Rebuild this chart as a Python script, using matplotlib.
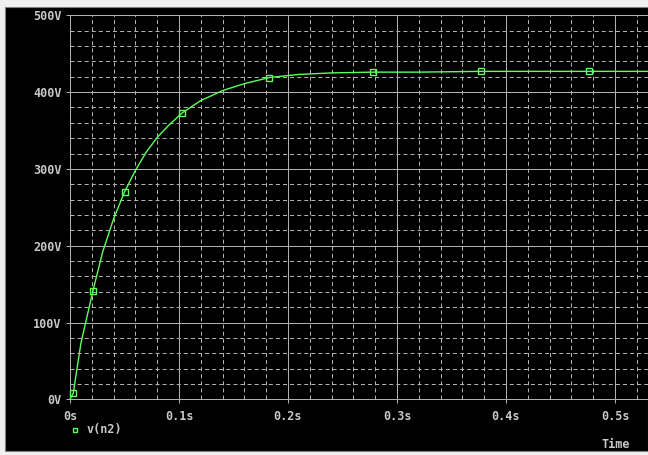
import matplotlib.pyplot as plt
from matplotlib.patches import Rectangle
from matplotlib.ticker import MultipleLocator

# v(n2) trace (time in s, voltage in V)
time_s = [0, 0.003, 0.01, 0.021, 0.03, 0.04, 0.05, 0.06, 0.07, 0.08, 0.09,
          0.103, 0.12, 0.14, 0.16, 0.183, 0.21, 0.24, 0.278, 0.32, 0.377,
          0.42, 0.476, 0.535]
v_n2 = [0, 8, 73, 141, 192, 235, 270, 298, 322, 341, 356,
        373, 389, 402, 411, 419, 423, 425, 426, 426, 427,
        427, 427, 427]

# symbol positions on the trace
mark_t = [0.003, 0.021, 0.050, 0.103, 0.183, 0.278, 0.377, 0.476]
mark_v = [8, 141, 270, 373, 419, 426, 427, 427]

x_ticks = [0, 0.1, 0.2, 0.3, 0.4, 0.5]
x_labels = ["0s", "0.1s", "0.2s", "0.3s", "0.4s", "0.5s"]
y_ticks = [0, 100, 200, 300, 400, 500]
y_labels = ["0V", "100V", "200V", "300V", "400V", "500V"]

W, H = 648, 455
TXT = "#c8c8c8"
GRID = "#b0b0b0"
TRACE = "#5cff5c"
FONT = "DejaVu Sans Mono"

plt.rcParams["lines.scale_dashes"] = False

fig = plt.figure(figsize=(W / 100, H / 100), dpi=100, facecolor="#f0f0f0")
# black window area
fig.patches.append(Rectangle((5 / W, (H - 451) / H), (W - 5) / W, (451 - 7) / H,
                             transform=fig.transFigure, facecolor="black",
                             edgecolor="#808080", linewidth=0.8, zorder=-5))

x0, x1 = 70, W
ytop, ybot = 15.3, 399.3
ax = fig.add_axes([x0 / W, (H - ybot) / H, (x1 - x0) / W, (ybot - ytop) / H])
ax.set_facecolor("black")

ax.set_xlim(0, (x1 - x0) / 1090)
ax.set_ylim(0, 500)

for s in ["left", "bottom", "top"]:
    ax.spines[s].set_color(GRID)
    ax.spines[s].set_linewidth(0.72)
ax.spines["right"].set_visible(False)

ax.set_xticks(x_ticks)
ax.set_xticklabels(x_labels)
ax.set_yticks(y_ticks)
ax.set_yticklabels(y_labels)
ax.xaxis.set_minor_locator(MultipleLocator(0.02))
ax.yaxis.set_minor_locator(MultipleLocator(20))

ax.tick_params(axis="both", which="major", colors=GRID, length=3, width=0.72,
               labelcolor=TXT, labelsize=8.5)
ax.tick_params(axis="x", which="major", pad=5)
ax.tick_params(axis="y", which="major", pad=3)
ax.tick_params(which="minor", length=0)
for lab in ax.get_xticklabels() + ax.get_yticklabels():
    lab.set_family(FONT)
    lab.set_fontweight("bold")

ax.grid(which="major", color=GRID, linewidth=0.72, linestyle="-")
ax.grid(which="minor", color=GRID, linewidth=0.72, linestyle=(0, (2.9, 2.2)))
ax.set_axisbelow(True)

ax.plot(time_s, v_n2, color=TRACE, linewidth=1.0, zorder=3, clip_on=False)
ax.plot(mark_t, mark_v, linestyle="none", marker="s", markersize=4.3,
        markerfacecolor="none", markeredgecolor=TRACE, markeredgewidth=1.0,
        zorder=4, clip_on=False)

# legend and axis title
fig.lines.append(plt.Line2D([75 / W], [(H - 430) / H], transform=fig.transFigure,
                            marker="s", markersize=3.5, markerfacecolor="none",
                            markeredgecolor=TRACE, markeredgewidth=1.0))
fig.text(87 / W, (H - 430) / H, "v(n2)", color=TXT, fontsize=8.5, family=FONT,
         fontweight="bold", va="center", ha="left")
fig.text(601 / W, (H - 444) / H, "Time", color=TXT, fontsize=8.5, family=FONT,
         fontweight="bold", va="center", ha="left")

fig.savefig("out.png", dpi=100, facecolor=fig.get_facecolor())
